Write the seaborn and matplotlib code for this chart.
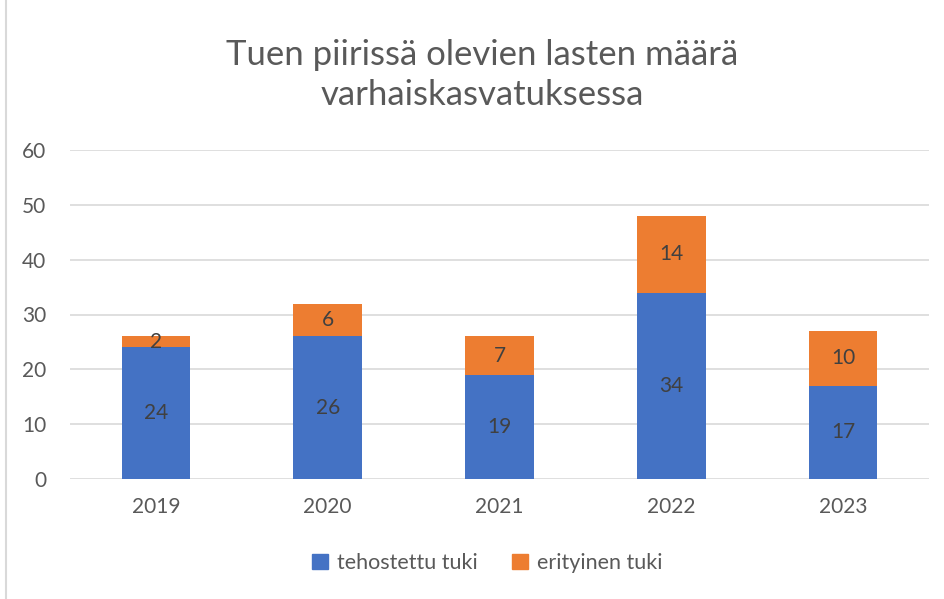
import numpy as np
import pandas as pd
import seaborn as sns
import matplotlib.pyplot as plt
from matplotlib.patches import Patch, Rectangle

years = ["2019", "2020", "2021", "2022", "2023"]
tehostettu = [24, 26, 19, 34, 17]
erityinen = [2, 6, 7, 14, 10]
series_names = ["tehostettu tuki", "erityinen tuki"]
title = "Tuen piirissä olevien lasten määrä\nvarhaiskasvatuksessa"

blue = "#4472C4"
orange = "#ED7D31"
txt = "#595959"

sns.set_style("white")
plt.rcParams["font.family"] = ["Lato", "DejaVu Sans"]

df = pd.DataFrame({"vuosi": years, "tehostettu": tehostettu, "erityinen": erityinen})
df["yhteensa"] = df["tehostettu"] + df["erityinen"]

fig = plt.figure(figsize=(9.44, 5.99), dpi=100)
ax = fig.add_axes([70 / 944, 120 / 599, 859 / 944, 329 / 599])

# stacked look: totals in orange, blue part drawn on top
sns.barplot(data=df, x="vuosi", y="yhteensa", color=orange, width=0.4,
            saturation=1, ax=ax, zorder=2)
sns.barplot(data=df, x="vuosi", y="tehostettu", color=blue, width=0.4,
            saturation=1, ax=ax, zorder=3)
for p in ax.patches:
    p.set_edgecolor("none")

for i, (a, b) in enumerate(zip(df["tehostettu"], df["erityinen"])):
    ax.text(i, a / 2, str(a), ha="center", va="center", fontsize=15, color="#404040", zorder=5)
    ax.text(i, a + b / 2, str(b), ha="center", va="center", fontsize=15, color="#404040", zorder=5)

ax.set_ylim(0, 60)
ax.set_yticks(range(0, 61, 10))
ax.set_xlim(-0.5, len(years) - 0.5)
ax.yaxis.grid(True, color="#D9D9D9", linewidth=1.2, zorder=0)
ax.set_axisbelow(True)
sns.despine(ax=ax, left=True, bottom=True)
ax.set_xlabel("")
ax.set_ylabel("")
ax.tick_params(axis="y", length=0, pad=17, labelsize=15, labelcolor=txt)
ax.tick_params(axis="x", length=0, pad=13, labelsize=15, labelcolor=txt)

fig.text(482 / 944, 1 - 75 / 599, title, ha="center", va="center", fontsize=25,
         color=txt, linespacing=1.3)

handles = [Patch(color=blue), Patch(color=orange)]
fig.legend(handles, series_names, loc="center", bbox_to_anchor=(487 / 944, 1 - 563 / 599),
           ncol=2, frameon=False, fontsize=15.5, labelcolor=txt, handlelength=0.75,
           handleheight=0.75, handletextpad=0.4, columnspacing=1.6)

fig.patches.append(Rectangle((6 / 944, -0.01), 1.0, 1.02, transform=fig.transFigure,
                             fill=False, edgecolor="#D9D9D9", linewidth=1.5))

fig.savefig("out.png", dpi=100)
